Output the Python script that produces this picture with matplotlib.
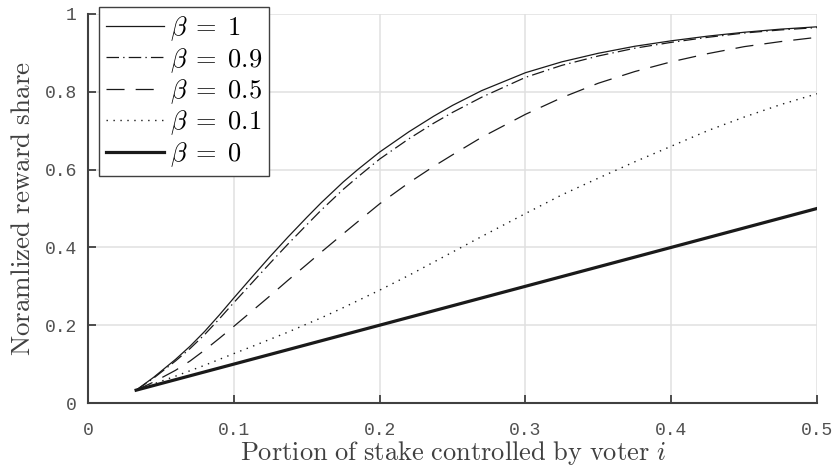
"""Normalized reward share vs. portion of stake for several beta values."""

import matplotlib

matplotlib.use("Agg")
import matplotlib.pyplot as plt

# values
stake = [0.033, 0.045, 0.06, 0.07, 0.08, 0.09, 0.1, 0.113, 0.125, 0.137, 0.15, 0.16, 0.175, 0.185,
         0.2, 0.22, 0.237, 0.25, 0.27, 0.3, 0.325, 0.35, 0.375, 0.4, 0.425, 0.45, 0.475, 0.5]
share_b1 = [0.033, 0.066, 0.112, 0.146, 0.184, 0.226, 0.27, 0.326, 0.377, 0.426, 0.477, 0.515, 0.568, 0.6,
            0.645, 0.697, 0.737, 0.765, 0.803, 0.849, 0.877, 0.899, 0.917, 0.931, 0.943, 0.953, 0.961, 0.967]
share_b09 = [0.033, 0.064, 0.108, 0.14, 0.176, 0.216, 0.258, 0.311, 0.36, 0.408, 0.458, 0.496, 0.549, 0.581,
             0.627, 0.679, 0.719, 0.747, 0.786, 0.837, 0.868, 0.892, 0.912, 0.927, 0.94, 0.951, 0.959, 0.965]
share_b05 = [0.033, 0.054, 0.084, 0.108, 0.136, 0.166, 0.197, 0.238, 0.276, 0.315, 0.356, 0.388, 0.435, 0.466,
             0.512, 0.566, 0.608, 0.638, 0.683, 0.742, 0.785, 0.822, 0.852, 0.877, 0.898, 0.916, 0.929, 0.94]
share_b01 = [0.033, 0.049, 0.069, 0.083, 0.097, 0.112, 0.127, 0.146, 0.164, 0.182, 0.203, 0.219, 0.245, 0.263,
             0.29, 0.328, 0.362, 0.388, 0.428, 0.487, 0.535, 0.578, 0.62, 0.66, 0.7, 0.735, 0.767, 0.795]
share_b0 = [0.033, 0.045, 0.06, 0.07, 0.08, 0.09, 0.1, 0.113, 0.125, 0.137, 0.15, 0.16, 0.175, 0.185,
            0.2, 0.22, 0.237, 0.25, 0.27, 0.3, 0.325, 0.35, 0.375, 0.4, 0.425, 0.45, 0.475, 0.5]

labels = [r"$\beta\;=\;1$", r"$\beta\;=\;0.9$", r"$\beta\;=\;0.5$", r"$\beta\;=\;0.1$", r"$\beta\;=\;0$"]
x_ticks = [0, 0.1, 0.2, 0.3, 0.4, 0.5]
x_tick_labels = ["0", "0.1", "0.2", "0.3", "0.4", "0.5"]
y_ticks = [0, 0.2, 0.4, 0.6, 0.8, 1.0]
y_tick_labels = ["0", "0.2", "0.4", "0.6", "0.8", "1"]


def main() -> None:
    plt.rcParams["mathtext.fontset"] = "cm"
    plt.rcParams["lines.scale_dashes"] = False

    fig = plt.figure(figsize=(8.39, 4.69), dpi=100)
    ax = fig.add_axes([0.1049, 0.1407, 0.8689, 0.8295])

    dark = "#1a1a1a"
    styles = [
        dict(linestyle="-", linewidth=0.9),
        dict(linestyle=(0, (9, 3, 1, 3)), linewidth=0.9),
        dict(linestyle=(0, (13, 8)), linewidth=0.9),
        dict(linestyle=(0, (1, 4)), linewidth=1.0),
        dict(linestyle="-", linewidth=2.3),
    ]
    series = [share_b1, share_b09, share_b05, share_b01, share_b0]
    for values, label, style in zip(series, labels, styles):
        ax.plot(stake, values, color=dark, label=label, **style)

    ax.set_xlim(0, 0.5)
    ax.set_ylim(0, 1)
    ax.set_xticks(x_ticks)
    ax.set_xticklabels(x_tick_labels)
    ax.set_yticks(y_ticks)
    ax.set_yticklabels(y_tick_labels)

    axis_color = "#404040"
    for side in ("top", "right"):
        ax.spines[side].set_visible(False)
    for side in ("left", "bottom"):
        ax.spines[side].set_color(axis_color)
        ax.spines[side].set_linewidth(1.5)

    ax.grid(True, color="#e0e0e0", linewidth=1.1)
    ax.set_axisbelow(True)
    ax.tick_params(direction="in", length=6, width=1.3, color=axis_color, labelcolor="#505050")
    ax.tick_params(axis="x", pad=14)
    ax.tick_params(axis="y", pad=8)
    for tick in ax.get_xticklabels() + ax.get_yticklabels():
        tick.set_fontfamily("Liberation Mono")
        tick.set_fontsize(13)

    ax.set_xlabel(r"$\mathrm{Portion\ of\ stake\ controlled\ by\ voter}\ i$",
                  fontsize=19, color=axis_color, labelpad=0)
    ax.set_ylabel(r"$\mathrm{Noramlized\ reward\ share}$",
                  fontsize=19.5, color=axis_color, labelpad=6)

    legend = ax.legend(
        loc="upper left",
        bbox_to_anchor=(99 / 839, 1 - 7 / 469),
        bbox_transform=fig.transFigure,
        borderaxespad=0,
        fontsize=19,
        handlelength=2.2,
        handletextpad=0.2,
        labelspacing=0.1,
        borderpad=0.28,
        fancybox=False,
        framealpha=1,
        edgecolor=axis_color,
    )
    legend.get_frame().set_linewidth(1.0)

    fig.savefig("out.png", dpi=100)


if __name__ == "__main__":
    main()
